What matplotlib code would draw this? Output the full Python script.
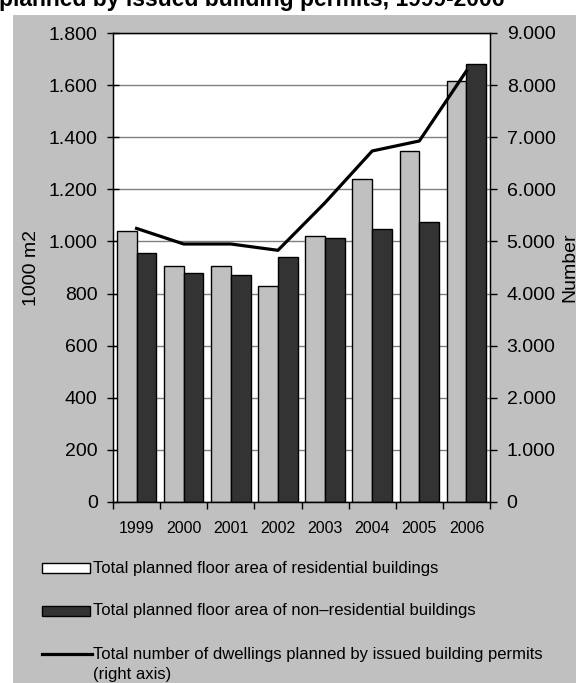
import matplotlib.pyplot as plt
import matplotlib.ticker as mticker
from matplotlib.patches import Rectangle
from matplotlib.lines import Line2D
import numpy as np

plt.rcParams['font.family'] = ['Liberation Sans', 'DejaVu Sans']

years = ['1999', '2000', '2001', '2002', '2003', '2004', '2005', '2006']
residential = [1042, 906, 906, 830, 1021, 1239, 1347, 1615]
non_residential = [957, 879, 871, 941, 1012, 1048, 1076, 1680]
dwellings = [5250, 4951, 4951, 4830, 5744, 6736, 6928, 8272]

legend_labels = ['Total planned floor area of residential buildings',
                 'Total planned floor area of non\u2013residential buildings',
                 'Total number of dwellings planned by issued building permits']

light = '#c0c0c0'
dark = '#333333'
W, H = 576, 683

fig = plt.figure(figsize=(W / 100, H / 100), dpi=100)
fig.patch.set_facecolor('white')


def px(x, y):
    # pixel position from the top-left corner -> figure fraction
    return x / W, 1 - y / H


# grey panel behind the chart
fig.patches.append(Rectangle(px(13, H), 1, 1 - 15 / H, transform=fig.transFigure,
                             facecolor=light, edgecolor='none', zorder=-10))

fig.text(*px(-1, 6), 'planned by issued building permits, 1999-2006',
         fontsize=16.5, fontweight='bold', ha='left', va='baseline')

ax = fig.add_axes([113 / W, 1 - 502 / H, 377 / W, 469 / H])
ax.set_facecolor('white')
x = np.arange(len(years))
w = 0.42
ax.bar(x - w / 2, residential, w, color=light, edgecolor='black', linewidth=1, zorder=2)
ax.bar(x + w / 2, non_residential, w, color=dark, edgecolor='black', linewidth=1, zorder=2)
ax.set_xlim(-0.5, len(years) - 0.5)
ax.set_ylim(0, 1800)
ax.set_yticks(np.arange(0, 1801, 200))
thousands = mticker.FuncFormatter(lambda v, p: f'{int(v):,}'.replace(',', '.'))
ax.yaxis.set_major_formatter(thousands)
ax.yaxis.grid(True, color='#808080', linewidth=1, zorder=0)
ax.set_axisbelow(True)
ax.set_xticks(x)
ax.set_xticklabels(years, fontsize=11.5)
ax.set_xticks(np.arange(-0.5, len(years)), minor=True)
ax.tick_params(axis='x', which='major', length=0, pad=14)
ax.tick_params(axis='x', which='minor', length=5, width=1)
ax.tick_params(axis='y', direction='inout', length=8, width=1, labelsize=14, pad=7)
ax.set_ylabel('1000 m2', fontsize=14, labelpad=6)
for s in ax.spines.values():
    s.set_linewidth(1)

ax2 = ax.twinx()
ax2.plot(x, dwellings, color='black', linewidth=2.3, zorder=3)
ax2.set_ylim(0, 9000)
ax2.set_yticks(np.arange(0, 9001, 1000))
ax2.yaxis.set_major_formatter(thousands)
ax2.tick_params(axis='y', direction='out', length=5, width=1, labelsize=14, pad=7)
ax2.set_ylabel('Number', fontsize=14, labelpad=4)

# legend below the plot, drawn by hand
rows = [568, 611, 654]
for y, fc in zip(rows[:2], ['white', dark]):
    fig.patches.append(Rectangle(px(42, y + 5), 48 / W, 10 / H, transform=fig.transFigure,
                                 facecolor=fc, edgecolor='black', linewidth=1))
fig.lines.append(Line2D([42 / W, 92 / W], [px(0, rows[2])[1]] * 2,
                        transform=fig.transFigure, color='black', linewidth=2.3))
for y, lab in zip(rows, legend_labels):
    fig.text(*px(93, y), lab, fontsize=12, ha='left', va='center')
fig.text(*px(93, 675), '(right axis)', fontsize=12, ha='left', va='center')

fig.savefig('out.png', dpi=100, facecolor=fig.get_facecolor())
